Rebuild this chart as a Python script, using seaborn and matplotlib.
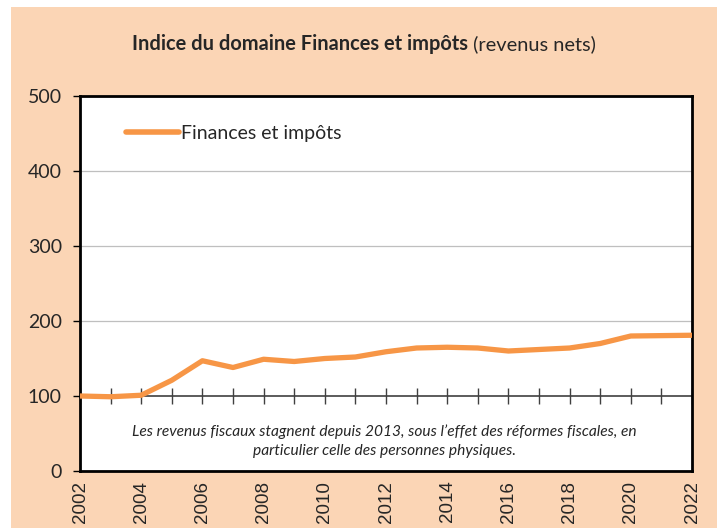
import pandas as pd
import matplotlib.pyplot as plt
import seaborn as sns
from matplotlib.patches import Rectangle

# Données (indice, 2002 = 100)
years = list(range(2002, 2023))
values = [100, 99, 101, 121, 147, 138, 149, 146, 150, 152, 159,
          164, 165, 164, 160, 162, 164, 170, 180, 180.5, 181]
series_name = "Finances et impôts"
title_bold = "Indice du domaine Finances et impôts"
title_normal = " (revenus nets)"
note = ("Les revenus fiscaux stagnent depuis 2013, sous l\u2019effet des réformes fiscales, en\n"
        "particulier celle des personnes physiques.")
y_ticks = [0, 100, 200, 300, 400, 500]
x_ticks = list(range(2002, 2023, 2))
base = 100

df = pd.DataFrame({"annee": years, "indice": values, "serie": series_name})

sns.set_style("white")
plt.rcParams["font.family"] = ["Lato", "DejaVu Sans"]

peach = "#FBD5B5"
orange = "#F79646"

fig = plt.figure(figsize=(7.17, 5.28), dpi=100, facecolor="white")
fig.add_artist(Rectangle((11 / 717, 0), 1 - 11 / 717, 1 - 7 / 528,
                         transform=fig.transFigure, facecolor=peach,
                         edgecolor="none", zorder=-5))

ax = fig.add_axes([80 / 717, 1 - 471 / 528, 612 / 717, 375 / 528])
ax.set_facecolor("white")

# grille horizontale
for v in y_ticks[2:-1]:
    ax.axhline(v, color="#BFBFBF", linewidth=0.9, zorder=1)

# axe horizontal à 100 avec graduations annuelles
ax.axhline(base, color="#404040", linewidth=1.2, zorder=2)
ax.plot(years, [base] * len(years), linestyle="none", marker="|",
        markersize=12, markeredgewidth=1, color="#404040", zorder=2)

sns.lineplot(data=df, x="annee", y="indice", hue="serie", palette=[orange],
             linewidth=3.8, ax=ax, zorder=3)

ax.set_xlim(2002, 2022)
ax.set_ylim(0, 500)
ax.set_yticks(y_ticks)
ax.set_yticklabels([str(v) for v in y_ticks], fontsize=14)
ax.set_xticks(x_ticks)
ax.set_xticklabels([str(v) for v in x_ticks], rotation=90, fontsize=13.5,
                   family=["Liberation Sans", "DejaVu Sans"])
ax.tick_params(axis="x", length=0, pad=7)
ax.tick_params(axis="y", direction="out", length=5, width=1, color="black",
               left=True, pad=8)
ax.set_xlabel("")
ax.set_ylabel("")

for s in ax.spines.values():
    s.set_visible(True)
    s.set_color("black")
    s.set_linewidth(2)

leg = ax.legend(loc="center left", bbox_to_anchor=(0.047, 0.9), frameon=False,
                fontsize=14, handlelength=2.7, handletextpad=0.1)
for line in leg.get_lines():
    line.set_linewidth(4)

ax.text(0.497, 0.08, note, transform=ax.transAxes, ha="center", va="center",
        fontsize=11.2, style="italic", linespacing=1.45)

t1 = fig.text(0, 1 - 50 / 528, title_bold, fontsize=14.4, fontweight="bold",
              va="baseline", ha="left")
t2 = fig.text(0, 1 - 50 / 528, title_normal, fontsize=14.4, va="baseline", ha="left")
fig.canvas.draw()
r = fig.canvas.get_renderer()
w1 = t1.get_window_extent(r).width / 717
w2 = t2.get_window_extent(r).width / 717
x0 = 364 / 717 - (w1 + w2) / 2
t1.set_x(x0)
t2.set_x(x0 + w1)

fig.savefig("out.png", dpi=100, facecolor="white")
